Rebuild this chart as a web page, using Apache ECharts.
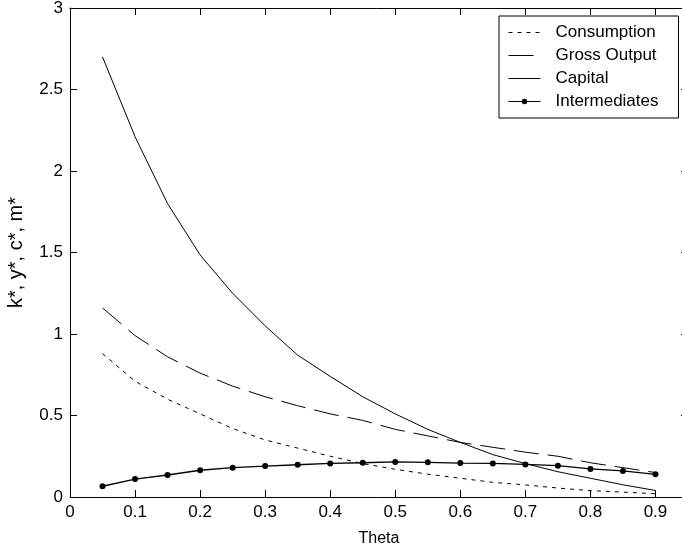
<!DOCTYPE html>
<html>
<head>
<meta charset="utf-8">
<script src="https://cdn.jsdelivr.net/npm/echarts@6/dist/echarts.min.js"></script>
<style>
  html, body { margin: 0; padding: 0; background: #fff; }
  #main { width: 682px; height: 552px; }
</style>
</head>
<body>
<div id="main"></div>
<script>
  // theta grid and the four series
  var theta = [0.05, 0.1, 0.15, 0.2, 0.25, 0.3, 0.35, 0.4, 0.45, 0.5, 0.55, 0.6, 0.65, 0.7, 0.75, 0.8, 0.85, 0.9];
  var consumption = [0.88, 0.71, 0.60, 0.51, 0.42, 0.35, 0.30, 0.25, 0.205, 0.17, 0.14, 0.115, 0.09, 0.074, 0.055, 0.039, 0.03, 0.02];
  var grossOutput = [1.16, 0.99, 0.86, 0.76, 0.68, 0.615, 0.56, 0.51, 0.47, 0.415, 0.375, 0.335, 0.305, 0.275, 0.25, 0.21, 0.18, 0.15];
  var capital = [2.70, 2.21, 1.80, 1.485, 1.25, 1.05, 0.87, 0.74, 0.615, 0.51, 0.415, 0.335, 0.26, 0.205, 0.155, 0.115, 0.075, 0.04];
  var intermediates = [0.066, 0.11, 0.135, 0.164, 0.18, 0.19, 0.198, 0.206, 0.21, 0.215, 0.213, 0.208, 0.206, 0.20, 0.192, 0.172, 0.16, 0.139];
  var names = ['Consumption', 'Gross Output', 'Capital', 'Intermediates'];

  function pairs(vals) {
    var out = [];
    for (var i = 0; i < theta.length; i++) out.push([theta[i], vals[i]]);
    return out;
  }

  var font = 'Liberation Sans, Arial, sans-serif';
  var axisLine = { show: true, onZero: false, lineStyle: { color: '#000', width: 1 } };
  var tick = { show: true, inside: true, length: 7, lineStyle: { color: '#000' } };
  var noDot = { opacity: 0 };

  var myChart = echarts.init(document.getElementById('main'));
  var option = {
    animation: false,
    backgroundColor: '#fff',
    grid: { left: 70, top: 8, width: 618, height: 489, containLabel: false, outerBoundsMode: 'none' },
    legend: {
      data: [
        { name: names[0], itemStyle: noDot },
        { name: names[1], itemStyle: noDot },
        { name: names[2], itemStyle: noDot },
        { name: names[3] }
      ],
      orient: 'vertical',
      left: 499,
      top: 16,
      itemWidth: 32,
      itemHeight: 7,
      itemGap: 6,
      padding: [8, 20, 8, 9],
      backgroundColor: '#fff',
      borderColor: '#000',
      borderWidth: 1,
      borderRadius: 0,
      lineStyle: { width: 1 },
      textStyle: { color: '#000', fontFamily: font, fontSize: 17, lineHeight: 16, padding: [0, 0, 0, 10] }
    },
    xAxis: [
      {
        type: 'value', min: 0, max: 0.95, interval: 0.1,
        name: 'Theta', nameLocation: 'middle', nameGap: 34,
        nameTextStyle: { color: '#000', fontFamily: font, fontSize: 16 },
        axisLine: axisLine, axisTick: tick,
        axisLabel: { color: '#000', fontFamily: font, fontSize: 17, margin: 7, showMaxLabel: false },
        splitLine: { show: false }
      },
      {
        type: 'value', position: 'top', min: 0, max: 0.95, interval: 0.1,
        axisLine: axisLine, axisTick: tick, axisLabel: { show: false }, splitLine: { show: false }
      }
    ],
    yAxis: [
      {
        type: 'value', min: 0, max: 3, interval: 0.5,
        name: 'k*, y*, c*, m*', nameLocation: 'middle', nameGap: 44, nameRotate: 90,
        nameTextStyle: { color: '#000', fontFamily: font, fontSize: 20 },
        axisLine: axisLine, axisTick: tick,
        axisLabel: { color: '#000', fontFamily: font, fontSize: 17, margin: 7 },
        splitLine: { show: false }
      },
      {
        type: 'value', position: 'right', min: 0, max: 3, interval: 0.5,
        axisLine: axisLine, axisTick: tick, axisLabel: { show: false }, splitLine: { show: false }
      }
    ],
    series: [
      {
        name: names[0], type: 'line', data: pairs(consumption), symbol: 'none',
        lineStyle: { color: '#000', width: 1, type: [4, 5] }, itemStyle: { color: '#000' }
      },
      {
        name: names[1], type: 'line', data: pairs(grossOutput), symbol: 'none',
        lineStyle: { color: '#000', width: 1, type: [25, 9] }, itemStyle: { color: '#000' }
      },
      {
        name: names[2], type: 'line', data: pairs(capital), symbol: 'none',
        lineStyle: { color: '#000', width: 1 }, itemStyle: { color: '#000' }
      },
      {
        name: names[3], type: 'line', data: pairs(intermediates), symbol: 'circle', symbolSize: 6,
        lineStyle: { color: '#000', width: 1.3 }, itemStyle: { color: '#000' }
      }
    ]
  };
  myChart.setOption(option);
  window.addEventListener('resize', function () { myChart.resize(); });
</script>
</body>
</html>
